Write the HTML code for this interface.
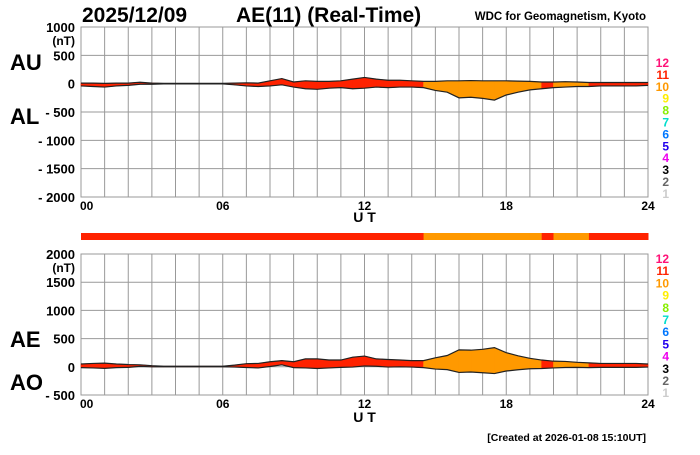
<!DOCTYPE html>
<html><head><meta charset="utf-8"><style>
body{margin:0;background:#fff;width:700px;height:450px;overflow:hidden}
svg text{font-family:"Liberation Sans",Arial,sans-serif;font-weight:bold}
</style></head><body>
<svg id="c" width="700" height="450" viewBox="0 0 700 450">
<text x="82" y="22" font-size="21">2025/12/09</text>
<text x="236" y="22" font-size="21">AE(11) (Real-Time)</text>
<text x="646" y="20" font-size="11.5" text-anchor="end">WDC for Geomagnetism, Kyoto</text>
<text x="10" y="70" font-size="22">AU</text>
<text x="10" y="124" font-size="22">AL</text>
<text x="10" y="347" font-size="22">AE</text>
<text x="10" y="390" font-size="22">AO</text>
<text x="646" y="441" font-size="10.5" text-anchor="end">[Created at 2026-01-08 15:10UT]</text>
</svg>
<script>
const hours=[0,0.5,1,1.5,2,2.5,3,3.5,4,4.5,5,5.5,6,6.5,7,7.5,8,8.5,9,9.5,10,10.5,11,11.5,12,12.5,13,13.5,14,14.5,15,15.5,16,16.5,17,17.5,18,18.5,19,19.5,20,20.5,21,21.5,22,22.5,23,23.5,24];
const au=[10,10,5,10,10,25,10,5,5,5,5,5,5,10,15,10,50,90,30,50,40,40,50,80,110,80,60,60,50,40,40,50,50,55,50,50,50,45,40,30,30,35,30,20,20,20,20,20,20];
const al=[-40,-50,-60,-40,-30,-10,-10,-5,-5,-5,-5,-5,-5,-20,-40,-50,-40,-20,-60,-90,-100,-80,-70,-90,-80,-60,-70,-60,-60,-70,-120,-150,-250,-240,-260,-290,-200,-150,-110,-90,-70,-60,-50,-50,-40,-40,-40,-40,-30];
const cls=[11,11,11,11,11,11,11,11,11,11,11,11,11,11,11,11,11,11,11,11,11,11,11,11,11,11,11,11,11,10,10,10,10,10,10,10,10,10,10,11,10,10,10,11,11,11,11,11];
const topTicks=[1000,500,0,-500,-1000,-1500,-2000];
const botTicks=[2000,1500,1000,500,0,-500];
const xTicks=["00","06","12","18","24"];
const legendNums=[12,11,10,9,8,7,6,5,4,3,2,1];
const legendCols=["#ff1177","#ff2200","#ff9900","#ffee00","#88ee00","#00ddcc","#0077ff","#2200ee","#ee00ee","#000000","#666666","#cccccc"];
const clsColor={10:"#ff9900",11:"#ff2200",12:"#ff1177",9:"#ffee00"};
const NS="http://www.w3.org/2000/svg",svg=document.getElementById('c');
function mk(t,a,txt){const e=document.createElementNS(NS,t);for(const k in a)e.setAttribute(k,a[k]);if(txt!==undefined)e.textContent=txt;svg.appendChild(e);return e;}
const X0=81,X1=648;const x=h=>X0+(X1-X0)*h/24;
function panel(top,bot,vmax,vmin,ticks,upper,lower,prefix,utY,legY,legStep){
  const y=v=>top+(bot-top)*(vmax-v)/(vmax-vmin);
  for(let h=0;h<=24;h++){const l=mk('line',{x1:x(h),x2:x(h),y1:top,y2:bot,stroke:'#999','stroke-width':1});
    }
  ticks.forEach(v=>{const l=mk('line',{x1:X0,x2:X1,y1:y(v),y2:y(v),stroke:'#999','stroke-width':1});
    
    const t=mk('text',{x:75,y:y(v)+5,'font-size':13,'text-anchor':'end'},v<0?'- '+(-v):String(v));
    });
  const u=mk('text',{x:75,y:y(ticks[0])+18,'font-size':12,'text-anchor':'end'},'(nT)');
  
  mk('rect',{x:X0,y:top,width:X1-X0,height:bot-top,fill:'none',stroke:'#999'});
  for(let i=0;i<hours.length-1;i++){
    const p=[[x(hours[i]),y(upper[i])],[x(hours[i+1]),y(upper[i+1])],[x(hours[i+1]),y(lower[i+1])],[x(hours[i]),y(lower[i])]];
    const s=mk('polygon',{points:p.map(q=>q.join(',')).join(' '),fill:clsColor[cls[i]],stroke:clsColor[cls[i]],'stroke-width':0.6});
    }
  ['u','l'].forEach(k=>{const arr=k==='u'?upper:lower;
    const pl=mk('polyline',{points:hours.map((h,i)=>x(h)+','+y(arr[i])).join(' '),fill:'none',stroke:'#222','stroke-width':1.2});
    });
  xTicks.forEach((t,i)=>{const e=mk('text',{x:i==0?x(0)-1:x(i*6),y:bot+13,'font-size':12,'text-anchor':i==0?'start':'middle'},t);
    });
  if(utY){const e=mk('text',{x:x(12),y:utY,'font-size':14,'text-anchor':'middle'},'U T');
    }
  legendNums.forEach((n,i)=>{const e=mk('text',{x:669,y:legY+i*legStep,'font-size':12,'text-anchor':'end',fill:legendCols[i]},String(n));
    });
}
panel(27,197,1000,-2000,topTicks,au,al,'top',222,67,11.9);
const ae=au.map((v,i)=>v-al[i]);const ao=au.map((v,i)=>(v+al[i])/2);
for(let i=0;i<hours.length-1;i++){const r=mk('rect',{x:x(hours[i]),y:233,width:x(hours[i+1])-x(hours[i])+0.5,height:7,fill:clsColor[cls[i]]});
  }
panel(254,395,2000,-500,botTicks,ae,ao,'bottom',422,263,12.2);
</script>
</body></html>
